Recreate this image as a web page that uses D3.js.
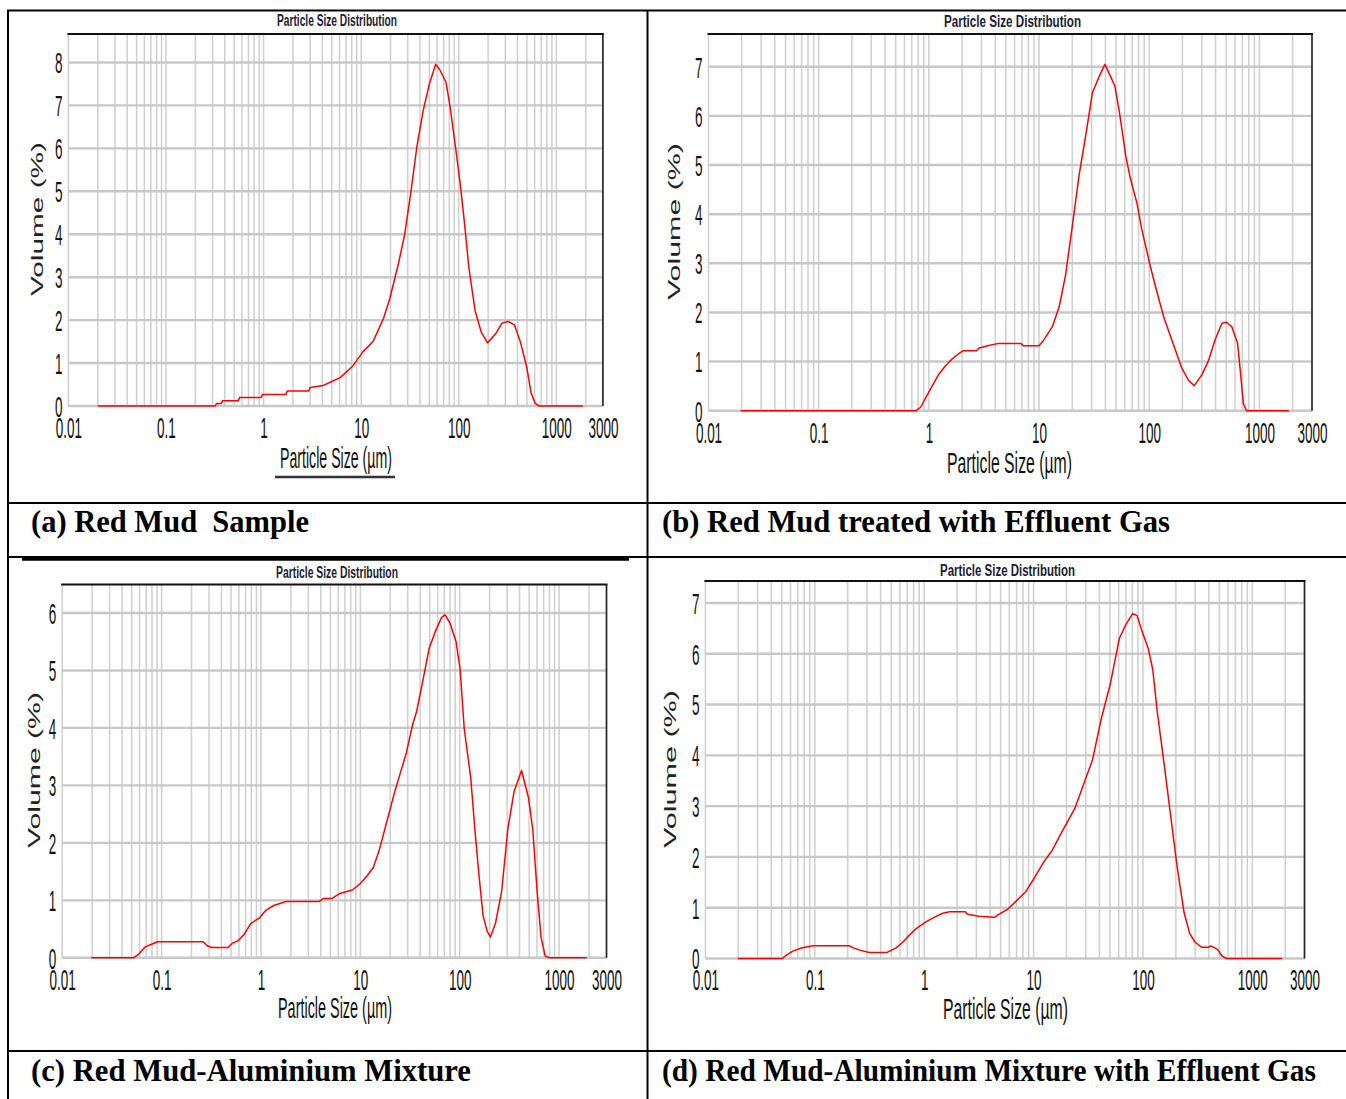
<!DOCTYPE html>
<html><head><meta charset="utf-8">
<script src="https://cdn.jsdelivr.net/npm/d3@7"></script>
<style>body{margin:0;background:#fff} svg{display:block}</style></head>
<body>
<script>
// ---------- data ----------
const xTicks = [0.01, 0.1, 1, 10, 100, 1000, 3000];
const xTickLabels = ["0.01", "0.1", "1", "10", "100", "1000", "3000"];
const yTicksA = [0, 1, 2, 3, 4, 5, 6, 7, 8];
const yTicksB = [0, 1, 2, 3, 4, 5, 6, 7];
const yTicksC = [0, 1, 2, 3, 4, 5, 6];
const yTicksD = [0, 1, 2, 3, 4, 5, 6, 7];

const sizeA = [0.02, 0.32, 0.33, 0.37, 0.38, 0.55, 0.57, 0.95, 0.97, 1.7, 1.75, 2.9, 3.0, 4.1, 5.0, 6.1, 8.2, 10.4, 13.3, 17, 19.7, 24, 27.8, 32.2, 37.3, 43.2, 50, 58, 63.9, 74, 81.6, 94.5, 104, 115, 127, 147, 170, 197, 239, 277, 321, 372, 431, 499, 550, 607, 670, 1870];
const volA  = [0, 0, 0.06, 0.06, 0.125, 0.125, 0.2, 0.2, 0.27, 0.27, 0.35, 0.35, 0.43, 0.48, 0.57, 0.66, 0.93, 1.26, 1.51, 2.05, 2.51, 3.3, 3.97, 4.96, 6.05, 6.88, 7.5, 7.96, 7.83, 7.54, 6.96, 5.88, 5.13, 4.22, 3.22, 2.22, 1.72, 1.47, 1.68, 1.93, 1.97, 1.89, 1.47, 0.89, 0.31, 0.06, 0, 0];

const sizeB = [0.0196, 0.766, 0.841, 1.01, 1.22, 1.41, 1.62, 1.86, 2.04, 2.7, 2.83, 3.41, 4.3, 6.86, 7.19, 9.96, 10.9, 13.2, 15.2, 17.4, 20.1, 23.1, 26.5, 30.5, 35.1, 39.6, 44.4, 48.7, 53.4, 61.5, 67.5, 77.6, 85.2, 103, 118, 136, 164, 197, 227, 256, 300, 345, 397, 457, 501, 561, 633, 676, 715, 763, 1849];
const volB  = [0, 0, 0.07, 0.40, 0.73, 0.91, 1.05, 1.16, 1.22, 1.22, 1.27, 1.32, 1.37, 1.37, 1.32, 1.32, 1.42, 1.71, 2.11, 2.76, 3.78, 4.80, 5.60, 6.47, 6.80, 7.05, 6.81, 6.61, 6.10, 5.16, 4.72, 4.21, 3.71, 2.91, 2.40, 1.89, 1.38, 0.87, 0.62, 0.51, 0.73, 1.02, 1.45, 1.78, 1.80, 1.71, 1.38, 0.73, 0.145, 0, 0];

const sizeC = [0.0196, 0.0522, 0.0592, 0.0683, 0.0828, 0.0912, 0.262, 0.288, 0.318, 0.467, 0.513, 0.593, 0.685, 0.791, 0.959, 1.11, 1.34, 1.79, 3.86, 4.25, 5.15, 6.24, 8.32, 10.1, 11.6, 13.5, 15.5, 18.8, 21.8, 25.1, 29.0, 33.5, 36.9, 42.7, 49.2, 56.9, 65.6, 70.9, 79.6, 91.9, 101, 111, 129, 142, 156, 172, 189, 204, 229, 264, 305, 353, 419, 493, 543, 598, 658, 725, 798, 1892];
const volC  = [0, 0, 0.07, 0.19, 0.25, 0.28, 0.28, 0.21, 0.18, 0.18, 0.25, 0.30, 0.42, 0.60, 0.69, 0.82, 0.91, 0.98, 0.98, 1.03, 1.03, 1.12, 1.18, 1.30, 1.42, 1.57, 1.87, 2.42, 2.84, 3.20, 3.56, 4.05, 4.29, 4.83, 5.38, 5.68, 5.92, 5.97, 5.83, 5.50, 5.02, 3.99, 3.14, 2.24, 1.45, 0.73, 0.46, 0.36, 0.60, 1.15, 2.24, 2.90, 3.26, 2.78, 2.24, 1.21, 0.36, 0.03, 0, 0];

const sizeD = [0.0197, 0.0504, 0.0553, 0.0637, 0.0769, 0.0973, 0.206, 0.226, 0.261, 0.315, 0.458, 0.553, 0.637, 0.733, 0.845, 1.02, 1.23, 1.48, 1.71, 2.38, 2.49, 3.15, 4.38, 4.81, 5.80, 7.00, 8.45, 10.2, 12.3, 14.8, 17.9, 23.8, 28.7, 34.6, 41.7, 50.4, 60.8, 70.0, 80.5, 88.5, 97.2, 112, 123, 135, 156, 179, 206, 238, 268, 300, 346, 398, 417, 481, 528, 579, 1875];
const volD  = [0, 0, 0.07, 0.15, 0.21, 0.25, 0.25, 0.21, 0.16, 0.12, 0.12, 0.21, 0.32, 0.46, 0.59, 0.71, 0.81, 0.89, 0.92, 0.92, 0.87, 0.83, 0.81, 0.87, 0.97, 1.14, 1.31, 1.59, 1.89, 2.13, 2.47, 2.95, 3.43, 3.91, 4.73, 5.41, 6.30, 6.58, 6.79, 6.75, 6.47, 6.10, 5.69, 4.87, 3.84, 2.82, 1.79, 0.90, 0.49, 0.32, 0.22, 0.22, 0.25, 0.18, 0.05, 0, 0];

const chartTitle = "Particle Size Distribution";
const xAxisTitle = "Particle Size (µm)";
const yAxisTitle = "Volume (%)";
const captions = ["(a) Red Mud  Sample", "(b) Red Mud treated with Effluent Gas", "(c) Red Mud-Aluminium Mixture", "(d) Red Mud-Aluminium Mixture with Effluent Gas"];

// ---------- drawing ----------
const W = 1346, H = 1099;
const svg = d3.select("body").append("svg").attr("width", W).attr("height", H);
svg.append("rect").attr("width", W).attr("height", H).attr("fill", "#fff");
const NARROW = "'Liberation Sans Narrow','Arial Narrow','Liberation Sans',Arial,sans-serif";
const SANS = "'Liberation Sans',Arial,sans-serif";
const SERIF = "'Liberation Serif','Times New Roman',serif";

const meas = svg.append("text").attr("font-family", NARROW).attr("font-size", 29).text("3000");
const sx = 30 / meas.node().getComputedTextLength();
meas.remove();

// vertical grid values (1..9 per decade, up to 3000)
const gridX = [];
[0.01, 0.1, 1, 10, 100, 1000].forEach(dec => { for (let k = 1; k <= 9; k++) { const v = +(k * dec).toPrecision(3); if (v <= 3000) gridX.push(v); } });

const panels = [
  {sizes: sizeA, vols: volA, yTicks: yTicksA, left: 68.4, right: 602.9, top: 34, y0: 406, unit: 42.94,
   title: [337, 26, 120], xl: [336, 468, 112], yl: [37, 219, 154], underline: true},
  {sizes: sizeB, vols: volB, yTicks: yTicksB, left: 708.5, right: 1312, top: 34, y0: 410.7, unit: 49.13,
   title: [1012.5, 27, 137], xl: [1009.5, 473, 125], yl: [674, 221.5, 157]},
  {sizes: sizeC, vols: volC, yTicks: yTicksC, left: 62.2, right: 606.5, top: 584.5, y0: 957.8, unit: 57.47,
   title: [337, 578, 122], xl: [335, 1018, 114], yl: [33.6, 770, 156]},
  {sizes: sizeD, vols: volD, yTicks: yTicksD, left: 705.4, right: 1304.5, top: 581, y0: 958.5, unit: 50.79,
   title: [1007.5, 576, 135], xl: [1005.5, 1019, 125], yl: [670, 769, 158]}
];

panels.forEach(p => {
  const x = d3.scaleLog().domain([0.01, 3000]).range([p.left, p.right]);
  const y = d3.scaleLinear().domain([0, (p.y0 - p.top) / p.unit]).range([p.y0, p.top]);
  const g = svg.append("g");

  g.selectAll(".vg").data(gridX).join("line")
    .attr("x1", d => x(d)).attr("x2", d => x(d)).attr("y1", p.top).attr("y2", p.y0)
    .attr("stroke", "#cfcfcf").attr("stroke-width", 1.5);
  g.selectAll(".hg").data(p.yTicks).join("line")
    .attr("x1", p.left).attr("x2", p.right).attr("y1", d => y(d)).attr("y2", d => y(d))
    .attr("stroke", "#c8c8c8").attr("stroke-width", 2.4);
  // frame
  g.append("line").attr("x1", p.left - 1).attr("x2", p.right + 1).attr("y1", p.top).attr("y2", p.top)
    .attr("stroke", "#111").attr("stroke-width", 2.2);
  g.append("line").attr("x1", p.right).attr("x2", p.right).attr("y1", p.top).attr("y2", p.y0)
    .attr("stroke", "#222").attr("stroke-width", 1.6);

  // curve
  const pts = p.sizes.map((s, i) => [s, p.vols[i]]);
  g.append("path").datum(pts)
    .attr("d", d3.line().x(d => x(d[0])).y(d => y(d[1])))
    .attr("fill", "none").attr("stroke", "#ff0000").attr("stroke-width", 1.5).attr("stroke-linejoin", "round");

  // x axis
  const xa = g.append("g").attr("transform", `translate(0,${p.y0})`)
    .call(d3.axisBottom(x).tickValues(xTicks).tickFormat((d, i) => xTickLabels[i]).tickSize(0));
  xa.select(".domain").remove();
  xa.selectAll("text").attr("y", 32).attr("dy", null)
    .attr("font-family", NARROW).attr("font-size", 29).attr("fill", "#111")
    .attr("transform", `scale(${sx},1)`);

  // y axis
  const ya = g.append("g").attr("transform", `translate(${p.left},0)`)
    .call(d3.axisLeft(y).tickValues(p.yTicks).tickFormat(d3.format("d")).tickSize(0));
  ya.select(".domain").remove();
  ya.selectAll("text").attr("x", -6 / sx).attr("y", 10.4).attr("dy", null)
    .attr("font-family", NARROW).attr("font-size", 29).attr("fill", "#111")
    .attr("text-anchor", "end").attr("transform", `scale(${sx},1)`);

  // titles
  g.append("text").attr("x", p.title[0]).attr("y", p.title[1]).attr("text-anchor", "middle")
    .attr("font-family", NARROW).attr("font-weight", "bold").attr("font-size", 16).attr("fill", "#1b1b33")
    .attr("textLength", p.title[2]).attr("lengthAdjust", "spacingAndGlyphs").text(chartTitle);
  g.append("text").attr("x", p.xl[0]).attr("y", p.xl[1]).attr("text-anchor", "middle")
    .attr("font-family", NARROW).attr("font-size", 29).attr("fill", "#111")
    .attr("textLength", p.xl[2]).attr("lengthAdjust", "spacingAndGlyphs").text(xAxisTitle);
  if (p.underline) {
    g.append("line").attr("x1", p.xl[0] - 61).attr("x2", p.xl[0] + 59).attr("y1", 477).attr("y2", 477)
      .attr("stroke", "#333").attr("stroke-width", 2.5);
  }
  g.append("text").attr("transform", `translate(${p.yl[0]},${p.yl[1]}) rotate(-90)`)
    .attr("y", 6).attr("text-anchor", "middle")
    .attr("font-family", SANS).attr("font-size", 17).attr("fill", "#222")
    .attr("textLength", p.yl[2]).attr("lengthAdjust", "spacingAndGlyphs").text(yAxisTitle);
});

// table lines
const tl = svg.append("g").attr("stroke", "#000").attr("stroke-width", 2);
[[7, 10.5, 1346, 10.5], [7, 503, 1346, 503], [7, 557, 1346, 557], [7, 1051, 1346, 1051],
 [8, 10, 8, 1099], [647.5, 10, 647.5, 1099]].forEach(l =>
  tl.append("line").attr("x1", l[0]).attr("y1", l[1]).attr("x2", l[2]).attr("y2", l[3]));
svg.append("line").attr("x1", 22).attr("x2", 629).attr("y1", 559).attr("y2", 559)
  .attr("stroke", "#000").attr("stroke-width", 3.5);

// captions
const capPos = [[31, 532, 278], [662, 532, 508], [31, 1081, 440], [662, 1081, 654]];
svg.selectAll(".cap").data(captions).join("text")
  .attr("x", (d, i) => capPos[i][0]).attr("y", (d, i) => capPos[i][1])
  .attr("font-family", SERIF).attr("font-weight", "bold").attr("font-size", 30.5)
  .attr("textLength", (d, i) => capPos[i][2]).attr("lengthAdjust", "spacingAndGlyphs")
  .style("white-space", "pre").attr("fill", "#000").text(d => d);
</script>
</body></html>
